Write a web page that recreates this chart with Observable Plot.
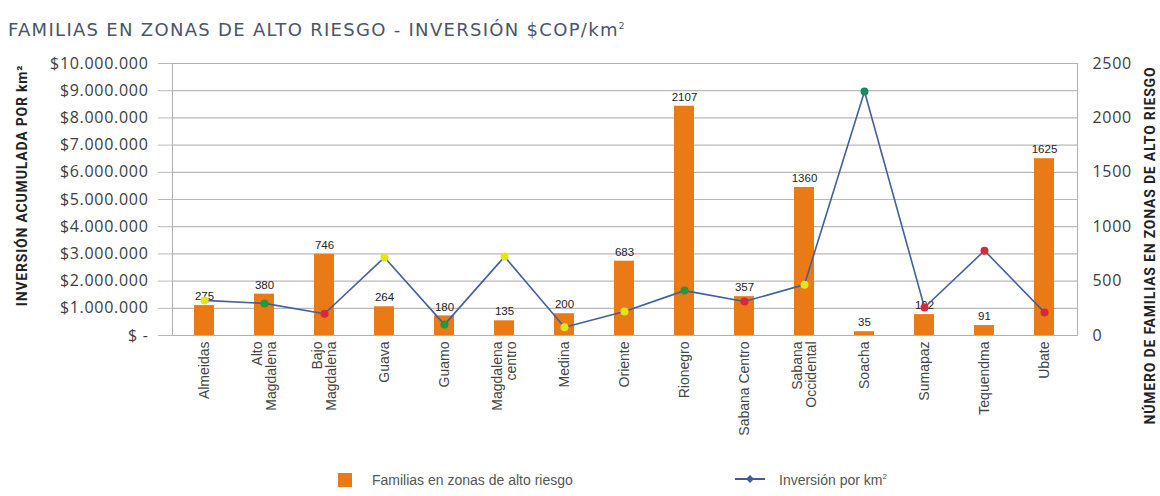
<!DOCTYPE html>
<html>
<head>
<meta charset="utf-8">
<script src="https://cdn.jsdelivr.net/npm/d3@7"></script>
<script src="https://cdn.jsdelivr.net/npm/@observablehq/plot@0.6"></script>
<style>
  body { margin: 0; background: #fff; font-family: Roboto, "Noto Sans", sans-serif; }
  #wrap { position: relative; width: 1160px; height: 496px; }
  #title { position: absolute; left: 8px; top: 19px; font-size: 18px; color: #4b5468; letter-spacing: 1.3px; white-space: nowrap; font-family: "DejaVu Sans", sans-serif; }
  #title sup { font-size: 9px; }
  #chart { position: absolute; left: 0; top: 45px; }
  .leg { position: absolute; top: 472px; font-size: 14px; color: #555; white-space: nowrap; font-family: "Liberation Sans", Arial, sans-serif; }
  .leg sup { font-size: 8px; }
  .ytl text { letter-spacing: 0.7px; }
  .atitle text { letter-spacing: 0.8px; }
</style>
</head>
<body>
<div id="wrap">
  <div id="title">FAMILIAS EN ZONAS DE ALTO RIESGO - INVERSIÓN $COP/km<sup>2</sup></div>
  <div id="chart"></div>
  <div class="leg" style="left:338px;"><span style="display:inline-block;width:14px;height:14px;background:#e97a16;vertical-align:-2px;margin-right:20px;"></span>Familias en zonas de alto riesgo</div>
  <div class="leg" style="left:735px;"><svg width="30" height="12" style="vertical-align:0px;margin-right:14px;"><line x1="0" y1="6" x2="30" y2="6" stroke="#3f5a9c" stroke-width="2"/><path d="M15 2 L19 6 L15 10 L11 6 Z" fill="#3f5a9c"/></svg>Inversión por km<sup>2</sup></div>
</div>
<script>
const categories = ["Almeidas", "Alto\nMagdalena", "Bajo\nMagdalena", "Guava", "Guamo", "Magdalena\ncentro", "Medina", "Oriente", "Rionegro", "Sabana Centro", "Sabana\nOccidental", "Soacha", "Sumapaz", "Tequendma", "Ubate"];
const familias = [275, 380, 746, 264, 180, 135, 200, 683, 2107, 357, 1360, 35, 192, 91, 1625];
const inversion = [1290000, 1180000, 800000, 2870000, 400000, 2900000, 300000, 880000, 1650000, 1250000, 1870000, 8970000, 1030000, 3120000, 850000];
const nivel = ["amarillo", "verde", "rojo", "amarillo", "verde", "amarillo", "amarillo", "amarillo", "verde", "rojo", "amarillo", "verde2", "rojo", "rojo", "rojo"];
const leftTicks = [0, 1e6, 2e6, 3e6, 4e6, 5e6, 6e6, 7e6, 8e6, 9e6, 10e6];
const rightTicks = [0, 500, 1000, 1500, 2000, 2500];
const ratio = 10e6 / 2500;

const data = categories.map((c, i) => ({
  cat: c, fam: familias[i], famScaled: familias[i] * ratio, inv: inversion[i], nivel: nivel[i]
}));

const fmtMoney = d => d === 0 ? "$ -" : "$" + d3.format(",")(d).replace(/,/g, ".");

const chart = Plot.plot({
  width: 1160,
  height: 415,
  marginTop: 18,
  marginBottom: 125,
  marginLeft: 172,
  marginRight: 83,
  style: { fontFamily: "Roboto, 'Noto Sans', sans-serif", background: "transparent", overflow: "visible" },
  x: { domain: categories, paddingInner: 0.66, paddingOuter: 0.28, align: 0.5, label: null },
  y: { domain: [0, 10e6], label: null },
  color: { domain: ["amarillo", "verde", "rojo", "verde2"], range: ["#e3e51c", "#1f9a3c", "#d42a3a", "#1a8a60"] },
  marks: [
    Plot.gridY(leftTicks, { stroke: "#b9b9b9", strokeOpacity: 1, strokeWidth: 1.2 }),
    Plot.axisY(leftTicks, { anchor: "left", tickFormat: fmtMoney, tickSize: 14, tickPadding: 10, stroke: "#b9b9b9", fontSize: 16, fill: "#3d3d3d", label: null, fontFamily: "'Open Sans', sans-serif", className: "ytl" }),
    Plot.axisY(rightTicks.map(d => d * ratio), { anchor: "right", tickFormat: d => String(d / ratio), tickSize: 0, tickPadding: 15, fontSize: 16, fill: "#3d3d3d", label: null, fontFamily: "'Open Sans', sans-serif", className: "ytl" }),
    Plot.axisX({ tickRotate: -90, tickSize: 0, tickPadding: 6, fontSize: 14, fill: "#444", label: null, fontFamily: "'Liberation Sans', Arial, sans-serif", lineHeight: 1.0 }),
    Plot.barY(data, { x: "cat", y: "famScaled", fill: "#e97a16" }),
    Plot.text(data, { x: "cat", y: "famScaled", text: d => String(d.fam), dy: -9, fontSize: 11.5, fill: "#222", fontFamily: "'Liberation Sans', Arial, sans-serif" }),
    Plot.line(data, { x: "cat", y: "inv", stroke: "#41609e", strokeWidth: 1.6 }),
    Plot.dot(data, { x: "cat", y: "inv", fill: "nivel", r: 4 }),
    Plot.frame({ stroke: "#b0b0b0" }),
    Plot.text(["INVERSIÓN ACUMULADA POR km²"], { frameAnchor: "left", textAnchor: "middle", rotate: -90, dx: -150, dy: -14, fontSize: 14, fontWeight: "bold", fill: "#222", className: "atitle" }),
    Plot.text(["NÚMERO DE FAMILIAS EN ZONAS DE ALTO RIESGO"], { frameAnchor: "right", textAnchor: "middle", rotate: -90, dx: 73, dy: 46, fontSize: 14, fontWeight: "bold", fill: "#222", className: "atitle" })
  ]
});
document.getElementById("chart").appendChild(chart);
</script>
</body>
</html>
